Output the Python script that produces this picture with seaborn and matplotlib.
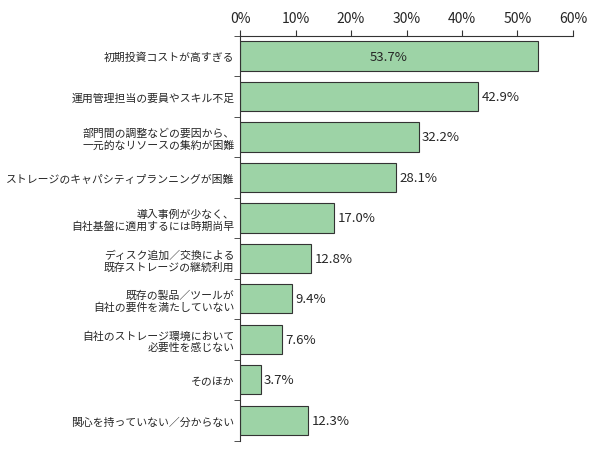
import matplotlib
matplotlib.use("Agg")
import matplotlib.pyplot as plt
import seaborn as sns
import pandas as pd

categories = ["初期投資コストが高すぎる", "運用管理担当の要員やスキル不足",
              "部門間の調整などの要因から、\n一元的なリソースの集約が困難",
              "ストレージのキャパシティプランニングが困難",
              "導入事例が少なく、\n自社基盤に適用するには時期尚早",
              "ディスク追加／交換による\n既存ストレージの継続利用",
              "既存の製品／ツールが\n自社の要件を満たしていない",
              "自社のストレージ環境において\n必要性を感じない",
              "そのほか", "関心を持っていない／分からない"]
values = [53.7, 42.9, 32.2, 28.1, 17.0, 12.8, 9.4, 7.6, 3.7, 12.3]
ticks = [0, 10, 20, 30, 40, 50, 60]

sns.set_style("white")
plt.rcParams['font.family'] = ['Noto Sans CJK JP', 'DejaVu Sans']
fig = plt.figure(figsize=(5.9, 4.6), dpi=100)
ax = fig.add_axes([0.407, 0.04, 0.564, 0.88])
df = pd.DataFrame({"cat": categories, "val": values})
sns.barplot(data=df, x="val", y="cat", color="#9dd3a6", saturation=1,
            edgecolor="#333333", linewidth=0.8, width=0.72, ax=ax)
ax.set_xlim(0, 60)
ax.set_xticks(ticks)
ax.set_xticklabels([f"{t}%" for t in ticks], fontsize=10)
ax.xaxis.tick_top()
ax.tick_params(axis="x", length=4, color="#333333", pad=4, top=True)
ax.set_xlabel("")
ax.set_ylabel("")
ax.set_yticks([i + 0.5 for i in range(-1, len(categories))], minor=True)
ax.tick_params(axis="y", which="minor", length=4, left=True, color="#333333")
ax.tick_params(axis="y", which="major", length=0, labelsize=7.8, pad=4)
for t in ax.get_yticklabels():
    t.set_horizontalalignment("right")
    t.set_multialignment("right")
for s in ["right", "bottom"]:
    ax.spines[s].set_visible(False)
for s in ["left", "top"]:
    ax.spines[s].set_color("#333333")
    ax.spines[s].set_linewidth(0.8)
ax.set_ylim(len(categories) - 0.5, -0.5)
for i, v in enumerate(values):
    if i == 0:
        ax.text(v / 2, i, f"{v:.1f}%", ha="center", va="center", fontsize=9.5)
    else:
        ax.text(v + 0.6, i, f"{v:.1f}%", ha="left", va="center", fontsize=9.5)
fig.savefig("out.png", dpi=100)
